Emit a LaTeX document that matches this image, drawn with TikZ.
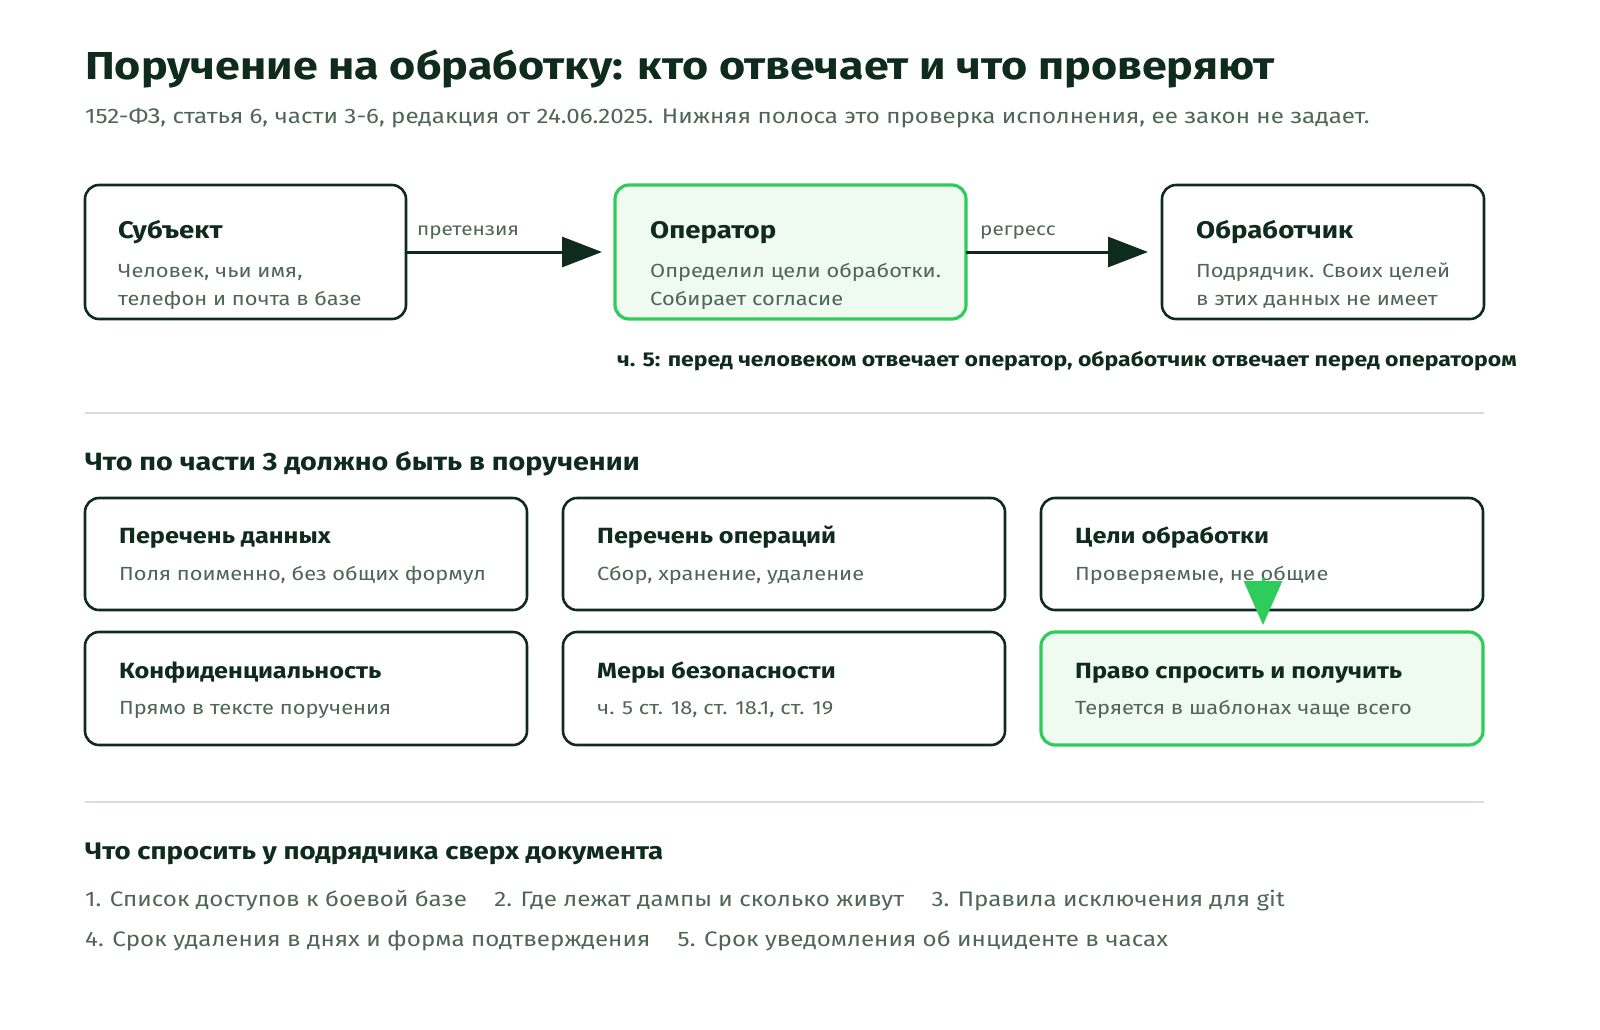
\documentclass[tikz,border=0pt]{standalone}
\usepackage{fontspec}
\setmainfont{Fira Sans}[FakeStretch=1.15]
\usetikzlibrary{arrows.meta}
\definecolor{ink}{HTML}{0F2A1F}
\definecolor{sub}{HTML}{4F6559}
\definecolor{grn}{HTML}{2ECC5A}
\definecolor{gfill}{HTML}{EFFAF1}
\definecolor{sep}{HTML}{D5E0DA}
\begin{document}
\begin{tikzpicture}[x=1pt,y=-1pt,
 box/.style={draw=ink,line width=2.6pt,rounded corners=14pt,fill=white},
 gbox/.style={draw=grn,line width=3.2pt,rounded corners=14pt,fill=gfill},
 bt/.style={anchor=base west,inner sep=0,font=\bfseries\fontsize{24}{28}\selectfont,text=ink},
 bt2/.style={anchor=base west,inner sep=0,font=\bfseries\fontsize{22}{26}\selectfont,text=ink},
 bd/.style={anchor=base west,inner sep=0,font=\fontsize{19}{23}\selectfont,text=sub},
 lab/.style={anchor=base west,inner sep=0,font=\fontsize{18}{22}\selectfont,text=sub},
 li/.style={anchor=base west,inner sep=0,font=\fontsize{21}{25}\selectfont,text=sub},
 hd/.style={anchor=base west,inner sep=0,font=\bfseries\fontsize{25}{30}\selectfont,text=ink},
 arr/.style={draw=ink,line width=3pt,-{Triangle[length=40pt,width=30pt]}}]
\useasboundingbox (0,0) rectangle (1600,1029);
\node[anchor=base west,inner sep=0,font=\bfseries\fontsize{39}{46}\selectfont,text=ink] (title) at (85,79) {Поручение на обработку: кто отвечает и что проверяют};
\node[li] (subt) at (85,123) {152-ФЗ, статья 6, части 3-6, редакция от 24.06.2025. Нижняя полоса это проверка исполнения, ее закон не задает.};
% top boxes
\draw[box] (85,185) rectangle (406,319);
\coordinate (sR) at (406,252);
\node[bt] (s1) at (118,238) {Субъект};
\node[bd] (s2) at (118,277) {Человек, чьи имя,};
\node[bd] (s3) at (118,305) {телефон и почта в базе};
\draw[gbox] (615,185) rectangle (966,319);
\coordinate (oL) at (602,252); \coordinate (oR) at (966,252);
\node[bt] (o1) at (650,238) {Оператор};
\node[bd] (o2) at (650,277) {Определил цели обработки.};
\node[bd] (o3) at (650,305) {Собирает согласие};
\draw[box] (1162,185) rectangle (1484,319);
\coordinate (pL) at (1148,252);
\node[bt] (p1) at (1196,238) {Обработчик};
\node[bd] (p2) at (1196,277) {Подрядчик. Своих целей};
\node[bd] (p3) at (1196,305) {в этих данных не имеет};
\draw[arr] (sR) -- (oL);
\draw[arr] (oR) -- (pL);
\node[lab] (l1) at (417,235) {претензия};
\node[lab] (l2) at (980,235) {регресс};
\node[anchor=base west,inner sep=0,font=\bfseries\fontsize{20}{24}\selectfont,text=ink] (note) at (617,366) {ч. 5: перед человеком отвечает оператор, обработчик отвечает перед оператором};
\draw[sep,line width=2pt] (85,413) -- (1484,413);
\node[hd] (h2) at (85,470) {Что по части 3 должно быть в поручении};
% grid
\foreach \x/\t/\d [count=\i] in {85/Перечень данных/{Поля поименно, без общих формул},563/Перечень операций/{Сбор, хранение, удаление},1041/Цели обработки/{Проверяемые, не общие}}{
 \draw[box] (\x,498) rectangle (\x+442,610);
 \node[bt2] (a\i) at (\x+34,543) {\t};
 \node[bd] (b\i) at (\x+34,580) {\d};
}
\foreach \x/\t/\d [count=\i] in {85/Конфиденциальность/{Прямо в тексте поручения},563/Меры безопасности/{ч. 5 ст. 18, ст. 18.1, ст. 19}}{
 \draw[box] (\x,632) rectangle (\x+442,745);
 \node[bt2] (c\i) at (\x+34,678) {\t};
 \node[bd] (d\i) at (\x+34,714) {\d};
}
\draw[gbox] (1041,632) rectangle (1483,745);
\node[bt2] (c3) at (1075,678) {Право спросить и получить};
\node[bd] (d3) at (1075,714) {Теряется в шаблонах чаще всего};
\coordinate (g1) at (1263,578); \coordinate (g2) at (1263,625);
\draw[draw=grn,line width=3pt,-{Triangle[length=44pt,width=38pt]}] (g1) -- (g2);
\draw[sep,line width=2pt] (85,802) -- (1484,802);
\node[hd,font=\bfseries\fontsize{24}{28}\selectfont] (h3) at (85,859) {Что спросить у подрядчика сверх документа};
\node[li] (q1) at (85,906) {1. Список доступов к боевой базе\quad\ 2. Где лежат дампы и сколько живут\quad\ 3. Правила исключения для git};
\node[li] (q2) at (85,946) {4. Срок удаления в днях и форма подтверждения\quad\ 5. Срок уведомления об инциденте в часах};
\end{tikzpicture}
\end{document}
